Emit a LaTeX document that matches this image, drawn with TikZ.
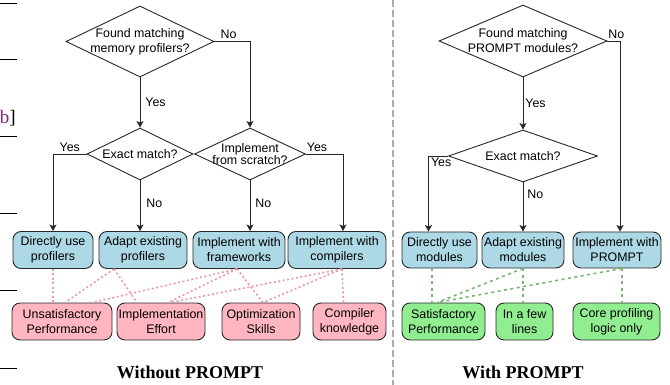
\documentclass[tikz,border=0pt]{standalone}
\usepackage{fontspec}
\setmainfont{Liberation Sans}
\newfontfamily\capfont{Liberation Serif}
\usetikzlibrary{shapes.geometric,arrows.meta}
\definecolor{boxblue}{RGB}{173,216,230}
\definecolor{boxpink}{RGB}{255,182,193}
\definecolor{boxgreen}{RGB}{144,238,144}
\definecolor{linkpink}{RGB}{234,152,170}
\definecolor{linkgreen}{RGB}{122,182,112}
\definecolor{edgegray}{RGB}{40,40,40}
\definecolor{refpurple}{RGB}{128,40,128}
\begin{document}
\begin{tikzpicture}
		[x=1pt,y=-1pt,font=\fontsize{12.4}{15}\selectfont,
		question/.style={diamond,draw=edgegray,line width=0.9pt,fill=white,inner sep=0pt},
		option/.style={rectangle,rounded corners=8pt,draw=edgegray,line width=0.9pt,fill=boxblue,minimum height=37pt,inner sep=0pt,align=center},
		cost/.style={option,fill=boxpink},
		gain/.style={option,fill=boxgreen},
		flow/.style={line width=0.9pt,draw=edgegray,-{Stealth[length=6.5pt,width=7pt,inset=1.5pt]}},
		lack/.style={linkpink,line width=1.6pt,dash pattern=on 2pt off 2.5pt},
		merit/.style={linkgreen,line width=1.6pt,dash pattern=on 3pt off 3.5pt},
		answer/.style={inner sep=2pt},
		heading/.style={font=\capfont\bfseries\fontsize{18}{20}\selectfont}]
		\useasboundingbox (0,0) rectangle (670,385);
		% cut edge of the page
		\draw[line width=1pt] (0,4)--(17,4) (0,60)--(17,60) (0,137)--(17,137)
			(0,214)--(17,214) (0,290)--(17,290) (0,368)--(17,368);
		\node[font=\capfont\fontsize{19}{20}\selectfont,anchor=east,inner sep=0pt,name=refmark] at (16,118) {\textcolor{refpurple}{b}]};
		\draw[gray!65,line width=2.5pt,dash pattern=on 7pt off 3pt] (393,0)--(393,385);
		% without PROMPT
		\node[question,minimum width=148pt,minimum height=71pt,name=memq,
			label={[align=center]center:Found matching\\memory profilers?}] at (140,41.5) {};
		\node[question,minimum width=106pt,minimum height=52pt,name=exactq,
			label={[align=center]center:Exact match?}] at (140,154) {};
		\node[question,minimum width=111pt,minimum height=52pt,name=implq,
			label={[align=center]center:Implement\\[-3pt]from scratch?}] at (250,154) {};
		\node[option,minimum width=80pt,name=direct] at (53,250) {Directly use\\profilers};
		\node[option,minimum width=88pt,name=adapt] at (143,250) {Adapt existing\\profilers};
		\node[option,minimum width=92pt,name=frame] at (239,250) {Implement with\\frameworks};
		\node[option,minimum width=98pt,name=comp] at (337,250) {Implement with\\compilers};
		\node[cost,minimum width=100pt,name=unsat] at (62,321.5) {Unsatisfactory\\Performance};
		\node[cost,minimum width=88pt,name=effort] at (161,321.5) {Implementation\\Effort};
		\node[cost,minimum width=78pt,name=skill] at (261,321.5) {Optimization\\Skills};
		\node[cost,minimum width=73pt,name=know] at (349.5,321.5) {Compiler\\knowledge};
		\draw[flow] (memq.south)--(exactq.north) node[answer,midway,right,xshift=3pt]{Yes};
		\draw[flow] (memq.east)-|node[answer,pos=0.2,above]{No} (implq.north);
		\draw[flow] (exactq.west)-|node[answer,pos=0.25,above]{Yes} (direct.north);
		\draw[flow] (exactq.south)--(exactq.south|-adapt.north) node[answer,pos=0.45,right,xshift=4pt]{No};
		\draw[flow] (implq.south)--(implq.south|-frame.north) node[answer,pos=0.45,right,xshift=3pt]{No};
		\draw[flow] (implq.east)-|node[answer,pos=0.15,above]{Yes} ([xshift=6pt]comp.north);
		\draw[lack] (direct.south)--([xshift=-9pt]unsat.north);
		\draw[lack] ([xshift=-29pt]adapt.south)--([xshift=3pt]unsat.north);
		\draw[lack] ([xshift=-29pt]adapt.south)--([xshift=-24pt]effort.north);
		\draw[lack] ([xshift=-2pt]frame.south)--([xshift=30pt]unsat.north);
		\draw[lack] ([xshift=-2pt]frame.south)--([xshift=7pt]effort.north);
		\draw[lack] ([xshift=-2pt]frame.south)--([xshift=2pt]skill.north);
		\draw[lack] ([xshift=5pt]comp.south)--([xshift=9pt]effort.north);
		\draw[lack] ([xshift=5pt]comp.south)--([xshift=2pt]skill.north);
		\draw[lack] ([xshift=5pt]comp.south)--([xshift=-6pt]know.north);
		\node[heading,name=lefttitle] at (190,372) {Without PROMPT};
		% with PROMPT
		\node[question,minimum width=168pt,minimum height=72pt,name=prmq,
			label={[align=center]center:Found matching\\PROMPT modules?}] at (523,41) {};
		\node[question,minimum width=149pt,minimum height=52pt,name=rexactq,
			label={[align=center]center:Exact match?}] at (523,156) {};
		\node[option,minimum width=75pt,minimum height=36pt,name=rdirect] at (439.5,250) {Directly use\\modules};
		\node[option,minimum width=82pt,minimum height=36pt,name=radapt] at (523,250) {Adapt existing\\modules};
		\node[option,minimum width=88pt,minimum height=36pt,name=rimpl] at (617,250) {Implement with\\PROMPT};
		\node[gain,minimum width=83pt,name=rsat] at (443.5,321.5) {Satisfactory\\Performance};
		\node[gain,minimum width=57pt,name=rfew] at (524.5,321.5) {In a few\\lines};
		\node[gain,minimum width=87pt,name=rcore] at (616.5,321.5) {Core profiling\\logic only};
		\draw[flow] (prmq.south)--(rexactq.north) node[answer,midway,right]{Yes};
		\draw[flow] (prmq.east)-|node[answer,pos=0.35,above]{No} ([xshift=3pt]rimpl.north);
		\draw[flow] (rexactq.west)-|node[answer,pos=0.175,below]{Yes} ([xshift=-11pt]rdirect.north);
		\draw[flow] (rexactq.south)--(rexactq.south|-radapt.north) node[answer,pos=0.25,right,xshift=2pt]{No};
		\draw[merit] ([xshift=-7.5pt]rdirect.south)--([xshift=-11.5pt]rsat.north);
		\draw[merit] (radapt.south)--([xshift=-6.5pt]rsat.north);
		\draw[merit] (radapt.south)--([xshift=-1.5pt]rfew.north);
		\draw[merit] ([xshift=5pt]rimpl.south)--([xshift=-6.5pt]rsat.north);
		\draw[merit] ([xshift=5pt]rimpl.south)--([xshift=5.5pt]rcore.north);
		\node[heading,name=righttitle] at (523,372) {With PROMPT};
	\end{tikzpicture}
\end{document}
